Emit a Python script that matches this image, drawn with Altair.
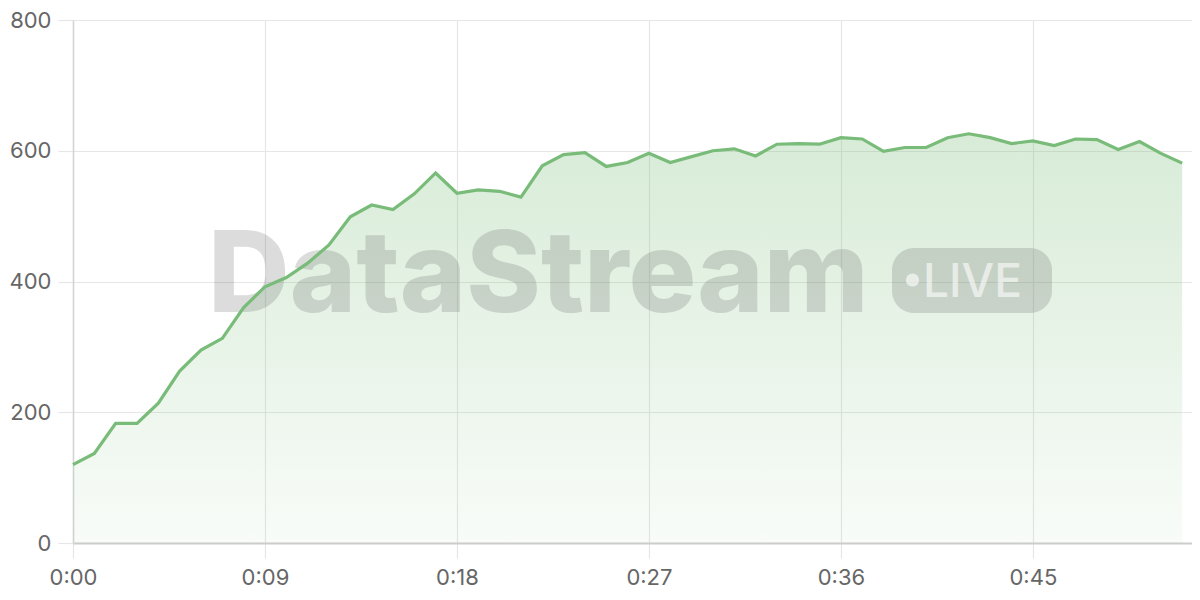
import altair as alt
import pandas as pd

seconds = list(range(53))
values = [120, 137, 183, 183, 214, 263, 295, 313, 360, 392, 406, 428, 456, 499, 517, 510,
          534, 566, 535, 540, 538, 529, 577, 594, 597, 576, 582, 596, 582, 591, 600, 603,
          592, 610, 611, 610, 620, 618, 599, 605, 605, 620, 626, 620, 611, 615, 608, 618,
          617, 602, 614, 596, 581]
x_ticks = [0, 9, 18, 27, 36, 45]
y_ticks = [0, 200, 400, 600, 800]
watermark = ["DataStream"]
badge_text = ["LIVE"]

df = pd.DataFrame({"t": seconds, "v": values})
one = pd.DataFrame({"k": [0]})

LINE = "#79bb79"
GRID = "#e6e6e6"

xenc = alt.X("t:Q", scale=alt.Scale(domain=[0, 52.46], nice=False),
             axis=alt.Axis(values=x_ticks, title=None,
                           labelExpr="'0:' + (datum.value < 10 ? '0' : '') + datum.value"))
yenc = alt.Y("v:Q", scale=alt.Scale(domain=[0, 800], nice=False),
             axis=alt.Axis(values=y_ticks, title=None))

area = alt.Chart(df).mark_area(
    color=alt.Gradient(gradient="linear", x1=1, x2=1, y1=0, y2=1,
                       stops=[alt.GradientStop(color="rgba(124,190,124,0.30)", offset=0),
                              alt.GradientStop(color="rgba(124,190,124,0.05)", offset=1)])
).encode(x=xenc, y=yenc)

wm = alt.Chart(pd.DataFrame({"w": watermark})).mark_text(
    font="Inter", fontWeight=800, fontSize=113, align="left", baseline="alphabetic",
    color="rgba(105,105,105,0.23)"
).encode(x=alt.value(135), y=alt.value(292), text="w:N")

badge = alt.Chart(one).mark_rect(
    cornerRadius=22, color="rgba(105,105,105,0.23)"
).encode(x=alt.value(819), x2=alt.value(979), y=alt.value(228), y2=alt.value(293))

dot = alt.Chart(one).mark_circle(
    size=175, color="rgba(255,255,255,0.6)", opacity=1
).encode(x=alt.value(839.5), y=alt.value(260))

live = alt.Chart(pd.DataFrame({"w": badge_text})).mark_text(
    font="Inter", fontWeight=500, fontSize=46, align="left", baseline="alphabetic",
    color="rgba(255,255,255,0.6)"
).encode(x=alt.value(850), y=alt.value(277), text="w:N")

line = alt.Chart(df).mark_line(color=LINE, strokeWidth=3.2).encode(x=xenc, y=yenc)

chart = alt.layer(area, wm, badge, dot, live, line).properties(
    width=1119, height=523,
    autosize=alt.AutoSizeParams(type="none"),
    padding={"left": 65, "top": 12, "right": 0, "bottom": 50},
).configure_view(stroke=None).configure_axis(
    gridColor=GRID, gridWidth=1.2, tickColor=GRID, tickSize=15, tickWidth=1.2,
    labelFont="Inter", labelFontSize=22, labelColor="#666666", labelFlush=False,
).configure_axisX(
    domainColor="#cccccc", domainWidth=2, labelPadding=9,
).configure_axisY(
    domainColor="#d4d4d4", domainWidth=1.5, labelPadding=7,
)

chart.save("out.html", embed_options={"renderer": "svg", "actions": False})
